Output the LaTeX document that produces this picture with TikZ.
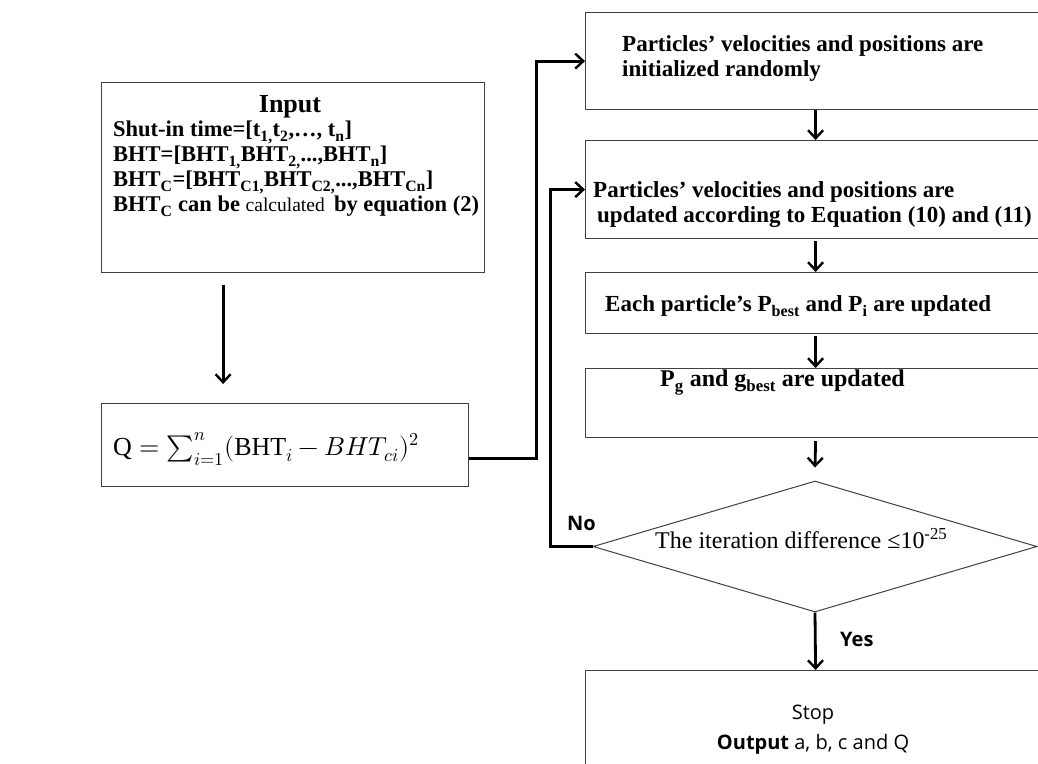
\documentclass[tikz,border=0pt]{standalone}
\usepackage{fontspec}
\usepackage{unicode-math}
\setmainfont{Liberation Serif}
\setmathfont{Latin Modern Math}
\newfontfamily\sansf{Open Sans}
\usetikzlibrary{arrows.meta,shapes.geometric}
\begin{document}
\begin{tikzpicture}[x=1pt,y=-1pt,
 box/.style={draw=black!75,line width=1.2pt,inner sep=0pt,anchor=north west},
 txt/.style={inner sep=0pt,font=\fontsize{23}{25}\selectfont\bfseries,anchor=base west},
 intxt/.style={inner sep=0pt,font=\fontsize{22.5}{25}\selectfont\bfseries,anchor=base west},
 dtxt/.style={inner sep=0pt,font=\fontsize{24}{26}\selectfont,anchor=base west},
 lab/.style={inner sep=0pt,font=\sansf\bfseries\fontsize{20}{24}\selectfont,anchor=base west},
 conn/.style={line width=2.8pt,-{Straight Barb[length=8pt,width=15pt,line width=2.4pt]}},
]
\useasboundingbox (0,0) rectangle (1038,763);
\clip (0,0) rectangle (1038,763);
% left column
\node[box,minimum width=383pt,minimum height=190pt] (input) at (101,82) {};
\node[inner sep=0pt,font=\fontsize{26}{28}\selectfont\bfseries,anchor=base] (intitle) at (290,112) {Input};
\node[intxt] (in1) at (113,136) {Shut-in time=[t\textsubscript{1,}t\textsubscript{2},\dots, t\textsubscript{n}]};
\node[intxt] (in2) at (113,161) {BHT=[BHT\textsubscript{1,}BHT\textsubscript{2,}...,BHT\textsubscript{n}]};
\node[intxt] (in3) at (113,186) {BHT\textsubscript{C}=[BHT\textsubscript{C1,}BHT\textsubscript{C2,}...,BHT\textsubscript{Cn}]};
\node[intxt] (in4) at (113,211) {BHT\textsubscript{C} can be {\mdseries\fontsize{19.5}{22}\selectfont calculated}\, by equation (2)};
\node[box,minimum width=367pt,minimum height=83pt] (qbox) at (101,403) {};
\node[inner sep=0pt,font=\fontsize{26}{30}\selectfont,anchor=base west] (qtxt) at (113,455) {$\mathrm{Q}=\textstyle\sum_{i=1}^{n}(\mathrm{BHT}_{i}-BHT_{ci})^{2}$};
% right column
\node[box,minimum width=460pt,minimum height=97pt] (b1) at (585,12) {};
\node[txt] (b1a) at (622,51) {Particles’ velocities and positions are};
\node[txt] (b1b) at (622,76) {initialized randomly};
\node[box,minimum width=460pt,minimum height=98pt] (b2) at (585,140) {};
\node[txt] (b2a) at (593,197) {Particles’ velocities and positions are};
\node[txt] (b2b) at (597,222) {updated according to Equation (10) and (11)};
\node[box,minimum width=460pt,minimum height=61pt] (b3) at (585,272) {};
\node[txt] (b3a) at (605,311) {Each particle’s P\textsubscript{best} and P\textsubscript{i} are updated};
\node[box,minimum width=460pt,minimum height=69pt] (b4) at (585,368) {};
\node[txt,font=\fontsize{24}{26}\selectfont\bfseries] (b4a) at (660,386) {P\textsubscript{g} and g\textsubscript{best} are updated};
\node[draw=black!75,line width=1pt,diamond,inner sep=0pt,aspect=3.39,minimum width=444pt,minimum height=131pt] (dia) at (815,546.5) {};
\node[dtxt] (diat) at (655,548) {The iteration difference ≤10\textsuperscript{-25}};
\node[box,minimum width=460pt,minimum height=120pt] (stop) at (585,670) {};
\node[inner sep=0pt,font=\sansf\fontsize{20}{22}\selectfont,anchor=base] (stopt) at (813,719) {Stop};
\node[inner sep=0pt,font=\sansf\fontsize{20}{22}\selectfont,anchor=base] (outt) at (813,749) {\textbf{Output} a, b, c and Q};
\node[lab] (no) at (567,530) {No};
\node[lab] (yes) at (840,646) {Yes};
% connectors
\coordinate (a1) at ([xshift=-70pt,yshift=-12pt]input.south);
\coordinate (a2) at ([yshift=19pt]qbox.north);
\draw[conn] (a1) -- (a1 |- a2);
\draw[conn] ([yshift=-13pt]qbox.east) -- ++(67,0) |- (b1.west);
\draw[conn] (dia.west) -- ++(-42,0) |- (b2.west);
\draw[conn] (b1.south) -- (b2.north);
\draw[conn] ([yshift=-2pt]b2.south) -- (b3.north);
\draw[conn] ([yshift=-2pt]b3.south) -- (b4.north);
\draw[conn] ([yshift=-3pt]b4.south) -- ([yshift=13pt]dia.north);
\draw[conn] (dia.south) -- (stop.north);
\end{tikzpicture}
\end{document}
